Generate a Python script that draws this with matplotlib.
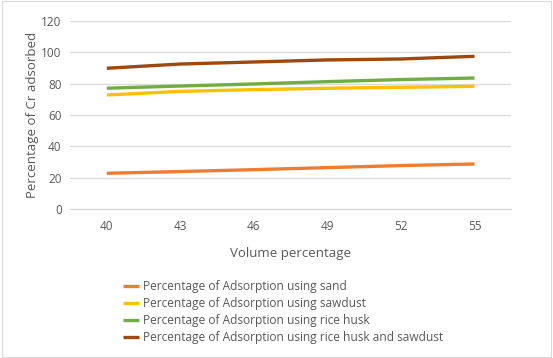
import matplotlib.pyplot as plt

plt.rcParams["font.family"] = ["Open Sans", "DejaVu Sans"]

volume = ["40", "43", "46", "49", "52", "55"]
sand = [22.9, 24.0, 25.2, 26.5, 27.8, 28.8]
sawdust = [72.7, 75.0, 76.1, 77.0, 77.6, 78.2]
rice_husk = [77.0, 78.4, 79.7, 81.2, 82.5, 83.5]
husk_sawdust = [89.7, 92.4, 93.7, 95.0, 95.6, 97.3]

series = [
    ("Percentage of Adsorption using sand", sand, "#ED7D31"),
    ("Percentage of Adsorption using sawdust", sawdust, "#FFC000"),
    ("Percentage of Adsorption using rice husk", rice_husk, "#70AD47"),
    ("Percentage of Adsorption using rice husk and sawdust", husk_sawdust, "#9E480E"),
]

txt = "#595959"
fig = plt.figure(figsize=(5.53, 3.58), dpi=100)
ax = fig.add_axes([0.1266, 0.4154, 0.798, 0.527])

x = range(len(volume))
for label, vals, col in series:
    ax.plot(x, vals, color=col, lw=2.4, label=label, solid_capstyle="butt")

ax.set_xlim(-0.5, len(volume) - 0.5)
ax.set_ylim(0, 120)
ax.set_yticks(range(0, 121, 20))
ax.set_xticks(list(x))
ax.set_xticklabels(volume)
ax.grid(axis="y", color="#D9D9D9", lw=0.9)
ax.set_axisbelow(True)
for s in ["top", "right", "left"]:
    ax.spines[s].set_visible(False)
ax.spines["bottom"].set_color("#D9D9D9")
ax.tick_params(length=0, labelsize=8.5, labelcolor=txt)
ax.tick_params(axis="y", pad=6)
ax.tick_params(axis="x", pad=8)

ax.set_ylabel("Percentage of Cr adsorbed", fontsize=9.5, color=txt, labelpad=2)
ax.set_xlabel("Volume percentage", fontsize=9.5, color=txt, labelpad=10)

fig.legend(loc="upper left", bbox_to_anchor=(0.213, 0.23), frameon=False,
           fontsize=8.6, labelcolor=txt, handlelength=1.35, handletextpad=0.35,
           labelspacing=0.33, borderaxespad=0)

fig.patches.append(plt.Rectangle((0.003, 0.003), 0.994, 0.994, transform=fig.transFigure,
                                 fill=False, edgecolor="#D9D9D9", lw=0.8))

fig.savefig("out.png", dpi=100)
